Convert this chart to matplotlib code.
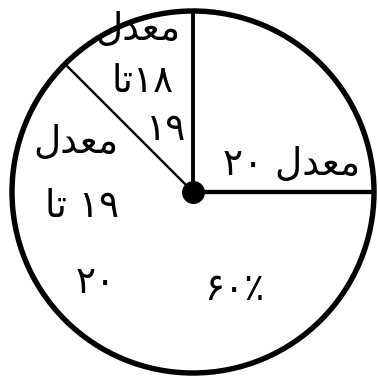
import math
import matplotlib
matplotlib.use("Agg")
import matplotlib.pyplot as plt

# ---- data ----
categories = ["معدل ۲۰", "معدل\n۱۸تا\n۱۹", "معدل\n۱۹ تا\n۲۰"]
shares = [25, 12.5, 62.5]          # wedge sizes as drawn (0-90°, 90-135°, 135-360°)
percent_label = "۶۰٪"

# ---- minimal Arabic shaping for display ----
FORMS = {  # isolated, final, initial, medial
    "م": (0xFEE1, 0xFEE2, 0xFEE3, 0xFEE4),
    "ع": (0xFEC9, 0xFECA, 0xFECB, 0xFECC),
    "ل": (0xFEDD, 0xFEDE, 0xFEDF, 0xFEE0),
    "ت": (0xFE95, 0xFE96, 0xFE97, 0xFE98),
    "د": (0xFEA9, 0xFEAA, None, None),
    "ا": (0xFE8D, 0xFE8E, None, None),
}


def dual(c):
    return c in FORMS and FORMS[c][2] is not None


def shape_word(w):
    out = []
    for i, c in enumerate(w):
        if c not in FORMS:
            out.append(c)
            continue
        prev = w[i - 1] if i > 0 else ""
        nxt = w[i + 1] if i + 1 < len(w) else ""
        jp = dual(prev)
        jn = dual(c) and nxt in FORMS
        f = FORMS[c]
        if jp and jn:
            code = f[3]
        elif jp:
            code = f[1]
        elif jn:
            code = f[2]
        else:
            code = f[0]
        out.append(chr(code))
    return "".join(out)


def visual(line):
    runs = []
    for c in line:
        kind = "r" if c in FORMS else ("s" if c == " " else "l")
        if runs and runs[-1][0] == kind:
            runs[-1][1] += c
        else:
            runs.append([kind, c])
    pieces = []
    for kind, txt in runs:
        if kind == "r":
            pieces.append(shape_word(txt)[::-1])
        else:
            pieces.append(txt)
    return "".join(pieces[::-1])


# ---- figure ----
W, H = 378, 379
fig = plt.figure(figsize=(W / 100, H / 100), dpi=100)
ax = fig.add_axes([0, 0, 1, 1])

cx, cy, R = 193, H - 192, 181
wedges, _ = ax.pie(shares, startangle=0, counterclock=True, center=(cx, cy),
                   radius=R, colors=["white"] * len(shares),
                   wedgeprops=dict(linewidth=0), frame=True)
ax.set_xlim(0, W)
ax.set_ylim(0, H)
ax.set_aspect("equal")
ax.axis("off")

# outline
ax.add_patch(plt.Circle((cx, cy), R, fill=False, lw=3.9, color="black", zorder=3))

# boundary lines from wedge angles
bound_lw = [3.1, 2.8, 1.7]
ang = 0.0
for s, lw in zip(shares, bound_lw):
    a = math.radians(ang)
    ax.plot([cx, cx + R * math.cos(a)], [cy, cy + R * math.sin(a)],
            color="black", lw=lw, solid_capstyle="butt", zorder=3)
    ang += s / sum(shares) * 360
ax.plot([cx], [cy], "o", color="black", ms=15.5, zorder=4)

# labels (line anchors in pixel coords, right aligned)
fs = 27
line_pos = [
    [(360, 165)],
    [(181, 30), (174, 82), (186, 130)],
    [(118, 143), (119, 207), (116, 283)],
]
for lab, poss in zip(categories, line_pos):
    for ln, (x, y) in zip(lab.split("\n"), poss):
        ax.text(x, H - y, visual(ln), ha="right", va="center", fontsize=fs,
                family="DejaVu Sans", color="black", zorder=5)
ax.text(234, H - 290, percent_label, ha="center", va="center", fontsize=fs,
        family="DejaVu Sans", color="black", zorder=5)

fig.savefig("out.png", dpi=100, facecolor="white")
